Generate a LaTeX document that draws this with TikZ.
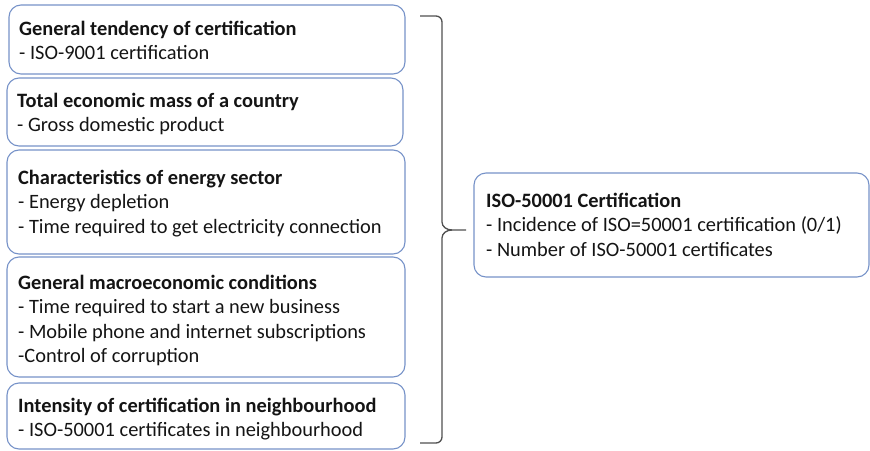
\documentclass[tikz,border=0pt]{standalone}
\usepackage{fontspec}
\setmainfont{Carlito}
\definecolor{boxline}{RGB}{118,146,200}
\definecolor{braceline}{RGB}{80,80,80}
\definecolor{txt}{RGB}{20,20,20}
\tikzset{
  factorbox/.style={draw=boxline, line width=1.1pt, rounded corners=12pt,
    anchor=north west, inner sep=0pt, outer sep=0pt},
  boxtext/.style={anchor=base west, inner sep=0pt, text=txt,
    font=\fontsize{20.4}{24.5}\selectfont},
}
\newcommand{\lines}[1]{\begin{tabular}[t]{@{}l@{}}#1\end{tabular}}
\begin{document}
\begin{tikzpicture}[x=1pt,y=1pt]
\useasboundingbox (0,0) rectangle (870,-450);
% factor boxes on the left
\node[factorbox, minimum width=396pt, minimum height=69pt]  (b1) at (9,-5) {};
\node[factorbox, minimum width=396pt, minimum height=68pt]  (b2) at (7,-78) {};
\node[factorbox, minimum width=398pt, minimum height=104pt] (b3) at (7,-150) {};
\node[factorbox, minimum width=398pt, minimum height=120pt] (b4) at (7,-257) {};
\node[factorbox, minimum width=398pt, minimum height=66pt]  (b5) at (7,-383) {};
% outcome box on the right
\node[factorbox, minimum width=395pt, minimum height=104pt] (r)  at (474,-173) {};

\node[boxtext] (t1) at (19,-35)  {\lines{\textbf{General tendency of certification}\\- ISO-9001 certification}};
\node[boxtext] (t2) at (17,-107) {\lines{\textbf{Total economic mass of a country}\\- Gross domestic product}};
\node[boxtext] (t3) at (18,-184) {\lines{\textbf{Characteristics of energy sector}\\- Energy depletion\\- Time required to get electricity connection}};
\node[boxtext] (t4) at (18,-289) {\lines{\textbf{General macroeconomic conditions}\\- Time required to start a new business\\- Mobile phone and internet subscriptions\\-Control of corruption}};
\node[boxtext] (t5) at (18,-412) {\lines{\textbf{Intensity of certification in neighbourhood}\\- ISO-50001 certificates in neighbourhood}};
\node[boxtext] (tr) at (486,-207) {\lines{\textbf{ISO-50001 Certification}\\- Incidence of ISO=50001 certification (0/1)\\- Number of ISO-50001 certificates}};

% right brace grouping the factors
\coordinate (btop) at (420,-16);
\coordinate (bbot) at (420,-443);
\coordinate (tip)  at (466,-230);
\draw[braceline, line width=1.3pt]
  (btop) -- (436,-16) to[out=0,in=90] (442,-22) -- (442,-222)
  to[out=-90,in=180] (452,-230) -- (tip);
\draw[braceline, line width=1.3pt]
  (452,-230) to[out=180,in=90] (442,-238) -- (442,-437)
  to[out=-90,in=0] (436,-443) -- (bbot);
\end{tikzpicture}
\end{document}
